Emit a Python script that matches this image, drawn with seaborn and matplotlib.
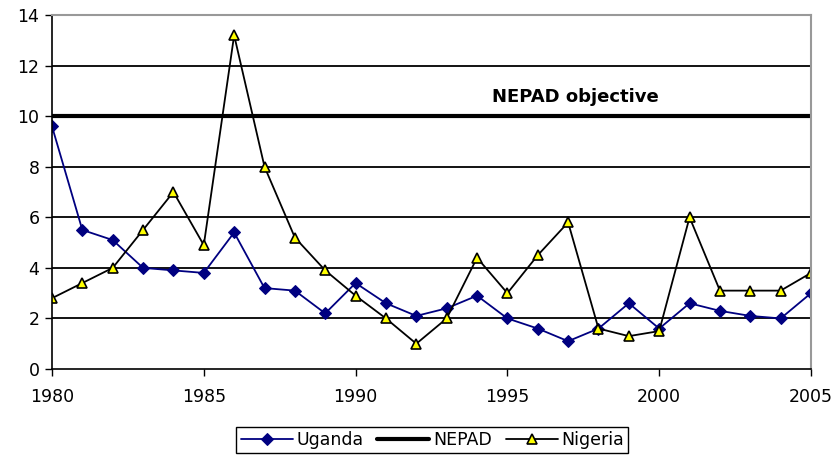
import pandas as pd
import seaborn as sns
import matplotlib.pyplot as plt

years = list(range(1980, 2006))
uganda = [9.6, 5.5, 5.1, 4.0, 3.9, 3.8, 5.4, 3.2, 3.1, 2.2, 3.4, 2.6, 2.1,
          2.4, 2.9, 2.0, 1.6, 1.1, 1.6, 2.6, 1.6, 2.6, 2.3, 2.1, 2.0, 3.0]
nigeria = [2.8, 3.4, 4.0, 5.5, 7.0, 4.9, 13.2, 8.0, 5.2, 3.9, 2.9, 2.0, 1.0,
           2.0, 4.4, 3.0, 4.5, 5.8, 1.6, 1.3, 1.5, 6.0, 3.1, 3.1, 3.1, 3.8]
nepad = [10] * len(years)

df = pd.DataFrame({"year": years, "Uganda": uganda, "NEPAD": nepad, "Nigeria": nigeria})

sns.set_style("white")
plt.rcParams['font.family'] = ['DejaVu Sans']
plt.rcParams['text.color'] = 'black'
plt.rcParams['xtick.color'] = 'black'
plt.rcParams['ytick.color'] = 'black'

fig = plt.figure(figsize=(8.33, 4.58), dpi=100)
ax = fig.add_axes([0.0624, 0.1943, 0.9112, 0.7729])

# gridlines
for v in range(2, 14, 2):
    ax.axhline(v, color='black', lw=1.3, zorder=0)

sns.lineplot(data=df, x="year", y="Uganda", ax=ax, color='#000080', lw=1.3,
             marker='D', markersize=6, markeredgecolor='#000080', label='Uganda')
sns.lineplot(data=df, x="year", y="NEPAD", ax=ax, color='black', lw=3,
             label='NEPAD')
sns.lineplot(data=df, x="year", y="Nigeria", ax=ax, color='black', lw=1.3,
             marker='^', markersize=7.5, markerfacecolor='#FFFF00',
             markeredgecolor='black', markeredgewidth=1.2, label='Nigeria')

ax.text(1997.25, 10.75, "NEPAD objective", fontsize=13, fontweight='bold',
        ha='center', va='center', color='black')

ax.set_xlim(1980, 2005)
ax.set_ylim(0, 14)
ax.set_xticks(range(1980, 2006, 5))
ax.set_yticks(range(0, 15, 2))
ax.set_xlabel("")
ax.set_ylabel("")
ax.tick_params(axis='both', direction='out', length=5, width=1, color='black',
               labelcolor='black', labelsize=12.5, pad=4, left=True, bottom=True)
ax.tick_params(axis='x', pad=9)

for s in ['top', 'right']:
    ax.spines[s].set_color('#999999')
    ax.spines[s].set_linewidth(1.5)
for s in ['left', 'bottom']:
    ax.spines[s].set_color('black')
    ax.spines[s].set_linewidth(1.2)

leg = ax.legend(loc='center', bbox_to_anchor=(0.519, 0.039), bbox_transform=fig.transFigure,
                ncol=3, frameon=True, fancybox=False, edgecolor='black', fontsize=12.5,
                handlelength=3.0, handletextpad=0.2, columnspacing=0.8,
                borderpad=0.25, framealpha=1)
for t in leg.get_texts():
    t.set_color('black')

fig.savefig("out.png", dpi=100)
